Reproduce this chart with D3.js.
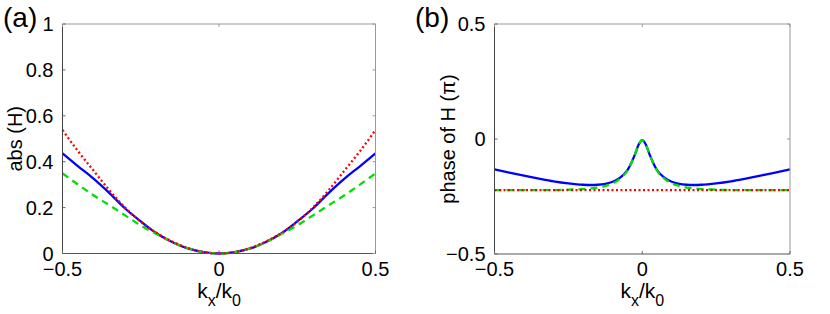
<!DOCTYPE html>
<html>
<head>
<meta charset="utf-8">
<script src="https://cdn.jsdelivr.net/npm/d3@7"></script>
<style>
  body { margin: 0; background: #fff; }
  svg { display: block; font-family: "Liberation Sans", Arial, sans-serif; }
</style>
</head>
<body>
<svg id="chart" width="830" height="314"></svg>
<script>
// Panel (a): magnitude of H vs kx/k0
const kxAbs = [-0.5, -0.45, -0.4, -0.35, -0.3, -0.25, -0.2, -0.15, -0.1, -0.05, 0,
               0.05, 0.1, 0.15, 0.2, 0.25, 0.3, 0.35, 0.4, 0.45, 0.5];
const absBlue  = [0.436, 0.38, 0.325, 0.263, 0.196, 0.14, 0.088, 0.05, 0.022, 0.006, 0,
                  0.006, 0.022, 0.05, 0.088, 0.14, 0.196, 0.263, 0.325, 0.38, 0.436];
const absGreen = [0.349, 0.30, 0.253, 0.21, 0.166, 0.122, 0.085, 0.05, 0.023, 0.006, 0,
                  0.006, 0.023, 0.05, 0.085, 0.122, 0.166, 0.21, 0.253, 0.30, 0.349];
const absRed   = [0.538, 0.445, 0.36, 0.275, 0.2, 0.138, 0.09, 0.052, 0.024, 0.006, 0,
                  0.006, 0.024, 0.052, 0.09, 0.138, 0.2, 0.275, 0.36, 0.445, 0.538];

// Panel (b): phase of H (in units of pi)
const kxPhase = [-0.5, -0.45, -0.4, -0.35, -0.3, -0.25, -0.2, -0.175, -0.15, -0.125, -0.1, -0.075,
                 -0.05, -0.0375, -0.025, -0.0125, 0, 0.0125, 0.025, 0.0375, 0.05,
                 0.075, 0.1, 0.125, 0.15, 0.175, 0.2, 0.25, 0.3, 0.35, 0.4, 0.45, 0.5];
const phaseBlue = [-0.132, -0.146, -0.159, -0.172, -0.184, -0.193, -0.199, -0.2, -0.199, -0.195, -0.186, -0.168,
                   -0.135, -0.105, -0.068, -0.025, -0.005, -0.025, -0.068, -0.105, -0.135,
                   -0.168, -0.186, -0.195, -0.199, -0.2, -0.199, -0.193, -0.184, -0.172, -0.159, -0.146, -0.132];
const phaseGreen = [-0.222, -0.222, -0.222, -0.222, -0.222, -0.22, -0.218, -0.215, -0.211, -0.204, -0.193, -0.172,
                    -0.137, -0.106, -0.068, -0.025, -0.005, -0.025, -0.068, -0.106, -0.137,
                    -0.172, -0.193, -0.204, -0.211, -0.215, -0.218, -0.22, -0.222, -0.222, -0.222, -0.222, -0.222];
const phaseRed = kxPhase.map(() => -0.222); // flat line, read as constant

const xTicks = [-0.5, 0, 0.5];
const absTicks = [0, 0.2, 0.4, 0.6, 0.8, 1];
const phaseTicks = [-0.5, 0, 0.5];

const svg = d3.select("#chart");
// MATLAB style tick text, with a real minus sign
const fmt = d => String(d).replace("-", "\u2212");

// one MATLAB-like axes box with three curves
function drawPanel(opts) {
  const { left, right, top, bottom, xs, series, yDomain, yTicks, ylabel, ylabelX, tag, tagX } = opts;
  const x = d3.scaleLinear().domain([-0.5, 0.5]).range([left, right]);
  const y = d3.scaleLinear().domain(yDomain).range([bottom, top]);
  const g = svg.append("g");

  // curves: blue solid, green dashed, red dotted (red on top)
  const line = d3.line().curve(d3.curveMonotoneX).x(d => x(d[0])).y(d => y(d[1]));
  series.forEach(s => {
    g.append("path")
      .attr("d", line(xs.map((k, i) => [k, s.values[i]])))
      .attr("fill", "none")
      .attr("stroke", s.color)
      .attr("stroke-width", 2.3)
      .attr("stroke-dasharray", s.dash || null);
  });

  // box: darker left/bottom, lighter top/right
  g.append("line").attr("x1", left).attr("x2", right).attr("y1", top).attr("y2", top).attr("stroke", "#999");
  g.append("line").attr("x1", right).attr("x2", right).attr("y1", top).attr("y2", bottom).attr("stroke", "#999");
  g.append("line").attr("x1", left).attr("x2", right).attr("y1", bottom).attr("y2", bottom).attr("stroke", "#555");
  g.append("line").attr("x1", left).attr("x2", left).attr("y1", top).attr("y2", bottom).attr("stroke", "#444");

  // inward ticks on all four sides
  const tl = 3;
  xTicks.forEach(t => {
    g.append("line").attr("x1", x(t)).attr("x2", x(t)).attr("y1", bottom).attr("y2", bottom - tl).attr("stroke", "#666");
    g.append("line").attr("x1", x(t)).attr("x2", x(t)).attr("y1", top).attr("y2", top + tl).attr("stroke", "#999");
    g.append("text")
      .attr("x", x(t)).attr("y", bottom + 22)
      .attr("text-anchor", "middle")
      .attr("font-size", 20)
      .text(fmt(t));
  });
  yTicks.forEach(t => {
    g.append("line").attr("x1", left).attr("x2", left + tl).attr("y1", y(t)).attr("y2", y(t)).attr("stroke", "#666");
    g.append("line").attr("x1", right).attr("x2", right - tl).attr("y1", y(t)).attr("y2", y(t)).attr("stroke", "#999");
    g.append("text")
      .attr("x", left - 9).attr("y", y(t) + 7)
      .attr("text-anchor", "end")
      .attr("font-size", 20)
      .text(fmt(t));
  });

  // x label k_x/k_0
  const xl = g.append("text")
    .attr("x", (left + right) / 2).attr("y", bottom + 44)
    .attr("text-anchor", "middle")
    .attr("font-size", 21);
  xl.append("tspan").text("k");
  xl.append("tspan").attr("font-size", 16).attr("dy", 8).text("x");
  xl.append("tspan").attr("dy", -8).text("/k");
  xl.append("tspan").attr("font-size", 16).attr("dy", 8).text("0");

  // y label
  g.append("text")
    .attr("transform", `translate(${ylabelX}, ${(top + bottom) / 2}) rotate(-90)`)
    .attr("text-anchor", "middle")
    .attr("font-size", 20)
    .text(ylabel);

  // panel tag
  g.append("text")
    .attr("x", tagX).attr("y", 27)
    .attr("font-size", 28)
    .text(tag);
}

drawPanel({
  left: 62.5, right: 375.5, top: 24, bottom: 253.5,
  xs: kxAbs,
  series: [
    { values: absBlue, color: "#0000ff" },
    { values: absGreen, color: "#00e000", dash: "7,5" },
    { values: absRed, color: "#ff0000", dash: "2,2.5" }
  ],
  yDomain: [0, 1], yTicks: absTicks,
  ylabel: "abs (H)", ylabelX: 22,
  tag: "(a)", tagX: 3
});

drawPanel({
  left: 494.5, right: 790, top: 24, bottom: 254,
  xs: kxPhase,
  series: [
    { values: phaseBlue, color: "#0000ff" },
    { values: phaseGreen, color: "#00e000", dash: "7,5" },
    { values: phaseRed, color: "#ff0000", dash: "2,2.5" }
  ],
  yDomain: [-0.5, 0.5], yTicks: phaseTicks,
  ylabel: "phase of H (\u03c0)", ylabelX: 455,
  tag: "(b)", tagX: 415
});
</script>
</body>
</html>
